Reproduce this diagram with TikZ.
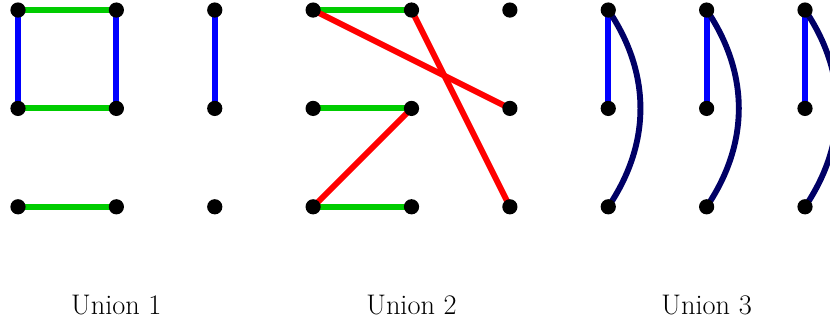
\documentclass[tikz,border=0pt]{standalone}
\usepackage{xcolor}
\usepackage{tikz}
\usetikzlibrary{positioning,calc}
\definecolor{edgegreen}{RGB}{0,204,0}
\definecolor{edgeblue}{RGB}{0,0,255}
\definecolor{edgered}{RGB}{255,0,0}
\definecolor{edgenavy}{RGB}{0,0,102}
\tikzset{
  vertex/.style={
    fill=black
  },
  green edge/.style={
    draw=edgegreen,
    line width=3.4pt
  },
  blue edge/.style={
    draw=edgeblue,
    line width=3.4pt
  },
  red edge/.style={
    draw=edgered,
    line width=3.4pt
  },
  navy edge/.style={
    draw=edgenavy,
    line width=3.4pt
  },
  union label/.style={
    font=\fontsize{16.4}{19}\selectfont
  }
}

\begin{document}
\begin{tikzpicture}[x=2cm,y=2cm]
  \clip (-0.183,-3.192) rectangle (8.254,0.102);

  % Grid points
  \foreach \c in {0,...,8}
    \foreach \r in {0,1,2}
      \coordinate (p\c\r) at (\c,-\r);

  % Union 1
  \draw[green edge] (p00) -- (p10);
  \draw[green edge] (p01) -- (p11);
  \draw[green edge] (p02) -- (p12);
  \draw[blue edge] (p00) -- (p01);
  \draw[blue edge] (p10) -- (p11);
  \draw[blue edge] (p20) -- (p21);

  % Union 2
  \draw[green edge] (p30) -- (p40);
  \draw[green edge] (p31) -- (p41);
  \draw[green edge] (p32) -- (p42);
  \draw[red edge] (p30) -- (p51);
  \draw[red edge] (p40) -- (p52);
  \draw[red edge] (p32) -- (p41);

  % Union 3
  \foreach \c in {6,7,8} {
    \draw[blue edge] (p\c0) -- (p\c1);
    \draw[navy edge] (p\c0) to[bend left=34] (p\c2);
  }

  % Vertices
  \foreach \c in {0,...,8}
    \foreach \r in {0,1,2}
      \fill[vertex] (p\c\r) circle (4.4pt);

  % Labels
  \node[union label] (lab1) at (1,-3) {Union 1};
  \node[union label] (lab2) at (4,-3) {Union 2};
  \node[union label] (lab3) at (7,-3) {Union 3};
\end{tikzpicture}
\end{document}
